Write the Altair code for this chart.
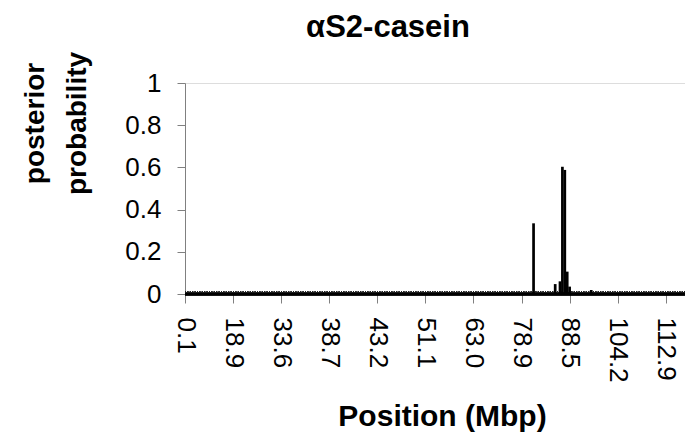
import altair as alt
import pandas as pd

# --- data ---
tick_labels = ["0.1", "18.9", "33.6", "38.7", "43.2", "51.1", "63.0",
               "78.9", "88.5", "104.2", "112.9"]
label_step = 20          # markers between labelled ticks
n_markers = 209          # number of marker positions on the category axis

peak_index = [145, 154, 156, 157, 158, 159, 160, 169]
peak_value = [0.335, 0.047, 0.06, 0.603, 0.588, 0.106, 0.035, 0.019]

y_ticks = [0, 0.2, 0.4, 0.6, 0.8, 1]

values = [0.0] * n_markers
for i, v in zip(peak_index, peak_value):
    values[i] = v
df = pd.DataFrame({"idx": list(range(n_markers)), "prob": values})
df = df[df["prob"] > 0]

label_map = {str(i * label_step): lab for i, lab in enumerate(tick_labels)}
label_expr = "{" + ",".join(f"'{k}':'{v}'" for k, v in label_map.items()) + "}[datum.value]"

FONT = "Liberation Sans"
x_max = n_markers - 1

x_enc = alt.X(
    "idx:Q",
    scale=alt.Scale(domain=[0, x_max], nice=False, zero=False, padding=0),
    axis=alt.Axis(
        values=[i * label_step for i in range(len(tick_labels))],
        labelExpr=label_expr,
        labelAngle=90, labelAlign="left", labelBaseline="middle",
        labelFontSize=26, labelFont=FONT, labelColor="black",
        labelPadding=14, tickSize=9, tickColor="#808080",
        domainColor="#808080", grid=False, labelOverlap=False,
        title="Position (Mbp)", titleFont=FONT, titleFontSize=30,
        titleFontWeight="bold", titleColor="black", titlePadding=19,
        titleX=257,
    ),
)
y_enc = alt.Y(
    "prob:Q",
    scale=alt.Scale(domain=[0, 1], nice=False, padding=0),
    axis=alt.Axis(
        values=y_ticks, format="~g",
        labelFontSize=26, labelFont=FONT, labelColor="black",
        labelPadding=16, tickSize=8, tickColor="#808080",
        domainColor="#808080", grid=False,
        title=["posterior", "probability"], titleFont=FONT, titleFontSize=28,
        titleFontWeight="bold", titleColor="black",
        titleLineHeight=42, titleAngle=-90, titleAlign="center",
        titleBaseline="middle", titleX=-150, titleY=40,
    ),
)

bars = alt.Chart(df).mark_bar(color="black", width=2.7).encode(
    x=x_enc, y=y_enc, y2=alt.datum(0)
)

zero_line = alt.Chart(df).mark_rule(color="black", strokeWidth=2.6).encode(
    x=alt.datum(0), x2=alt.datum(x_max), y=alt.datum(0)
)
dots = alt.Chart(df).mark_rule(
    color="#222222", strokeWidth=1, strokeDash=[1, 1.4], yOffset=-2
).encode(x=alt.datum(0), x2=alt.datum(x_max), y=alt.datum(0))

chart = alt.layer(zero_line, dots, bars).properties(
    width=500, height=211,
    padding={"left": 185, "top": 83, "right": 0, "bottom": 146},
    autosize=alt.AutoSizeParams(type="none"),
    title=alt.TitleParams(
        "αS2-casein", font=FONT, fontSize=31, fontWeight="bold",
        color="black", anchor="middle", dx=-47, dy=-3,
    ),
).configure_view(stroke=None).configure(background="white")

chart.save("out.html", embed_options={"renderer": "svg", "actions": False})
